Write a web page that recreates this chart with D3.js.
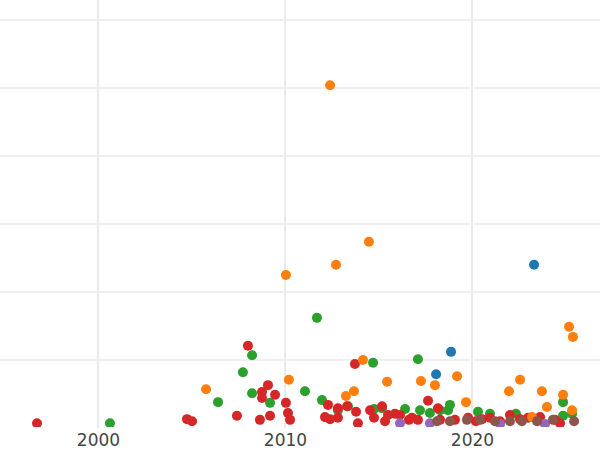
<!DOCTYPE html>
<html><head><meta charset="utf-8">
<script src="https://cdn.jsdelivr.net/npm/d3@7"></script>
<style>body{margin:0;background:#fff}</style></head>
<body><svg id="c" width="600" height="450"></svg>
<script>
const redYears=[1996.74,2004.76,2005.03,2007.43,2008.02,2008.66,2008.77,2008.77,2009.09,2009.2,2009.47,2010.05,2010.16,2010.27,2012.14,2012.41,2012.3,2012.83,2012.83,2013.32,2013.74,2013.8,2013.9,2014.55,2014.76,2015.19,2015.35,2015.51,2015.88,2016.15,2016.63,2016.79,2017.11,2017.65,2018.18,2018.29,2019.09,2019.79,2020.21,2020.54,2020.96,2021.5,2022.03,2022.57,2023.0,2023.64,2024.44,2024.71];
const redValues=[0.07,0.13,0.1,0.18,1.21,0.12,0.53,0.44,0.63,0.18,0.49,0.37,0.22,0.12,0.16,0.13,0.34,0.15,0.29,0.32,0.94,0.24,0.07,0.26,0.15,0.32,0.1,0.19,0.21,0.19,0.12,0.15,0.12,0.4,0.29,0.12,0.12,0.15,0.1,0.13,0.15,0.1,0.19,0.13,0.15,0.16,0.12,0.07];
const greenYears=[2000.64,2006.42,2007.75,2008.24,2008.24,2009.2,2011.07,2011.71,2011.98,2012.83,2013.37,2014.71,2014.76,2015.19,2016.42,2017.11,2017.22,2017.75,2018.29,2018.72,2018.82,2020.32,2020.96,2022.35,2024.87,2024.87,2025.35];
const greenValues=[0.07,0.38,0.82,1.07,0.51,0.37,0.54,1.62,0.41,0.26,0.32,0.96,0.28,0.29,0.28,1.01,0.26,0.22,0.26,0.26,0.34,0.24,0.21,0.21,0.38,0.18,0.21];
const orangeYears=[2005.78,2010.21,2010.05,2012.41,2012.73,2013.26,2013.69,2014.17,2014.49,2015.46,2017.27,2018.02,2019.2,2019.68,2021.98,2022.57,2023.74,2024.01,2024.87,2025.19,2025.4,2025.35,2023.21];
const orangeValues=[0.57,0.71,2.25,5.04,2.4,0.47,0.54,1.0,2.74,0.68,0.69,0.63,0.76,0.38,0.54,0.71,0.54,0.31,0.49,1.49,1.34,0.26,0.16];
const blueYears=[2018.08,2018.88,2023.32];
const blueValues=[0.79,1.12,2.4];
const purpleYears=[2016.15,2017.75,2021.5,2023.9];
const purpleValues=[0.07,0.07,0.06,0.06];
const brownYears=[2018.13,2018.82,2019.73,2020.43,2021.23,2022.03,2022.67,2023.48,2024.33,2025.46];
const brownValues=[0.1,0.1,0.12,0.12,0.1,0.1,0.1,0.1,0.12,0.1];
const xTicks=[2000,2010,2020];
const yGrid=[1,2,3,4,5,6];

const svg=d3.select("#c");
const W=600,B=428;
const x=d3.scaleLinear().domain([1994.76,1994.76+600/18.7]).range([0,W]);
const y=d3.scaleLinear().domain([0,B/68]).range([B,0]);
svg.append("defs").append("clipPath").attr("id","clip").append("rect").attr("x",0).attr("y",0).attr("width",W).attr("height",B-1);
svg.append("g").selectAll("line").data(yGrid).join("line")
 .attr("x1",0).attr("x2",W).attr("y1",d=>y(d)).attr("y2",d=>y(d)).attr("stroke","#ebebeb").attr("stroke-width",1.5);
svg.append("g").selectAll("line").data(xTicks).join("line")
 .attr("x1",d=>x(d)).attr("x2",d=>x(d)).attr("y1",0).attr("y2",B).attr("stroke","#ebebeb").attr("stroke-width",2);
const g=svg.append("g").attr("clip-path","url(#clip)");
const series=[
 [blueYears,blueValues,"#1f77b4"],
 [greenYears,greenValues,"#2ca02c"],
 [redYears,redValues,"#d62728"],
 [orangeYears,orangeValues,"#ff7f0e"],
 [purpleYears,purpleValues,"#9467bd"],
 [brownYears,brownValues,"#8c564b"]];
series.forEach(([xs,vs,c])=>{
 g.append("g").selectAll("circle").data(xs.map((d,i)=>[d,vs[i]])).join("circle")
  .attr("cx",d=>x(d[0])).attr("cy",d=>y(d[1])).attr("r",5).attr("fill",c);
});
svg.append("g").attr("transform",`translate(0,${B})`)
 .call(d3.axisBottom(x).tickValues(xTicks).tickFormat(d3.format("d")).tickSize(0).tickPadding(6))
 .call(a=>a.select(".domain").remove())
 .call(a=>a.selectAll("text").attr("fill","#444").attr("font-size",17).attr("font-family","'DejaVu Sans', sans-serif"));
</script></body></html>
